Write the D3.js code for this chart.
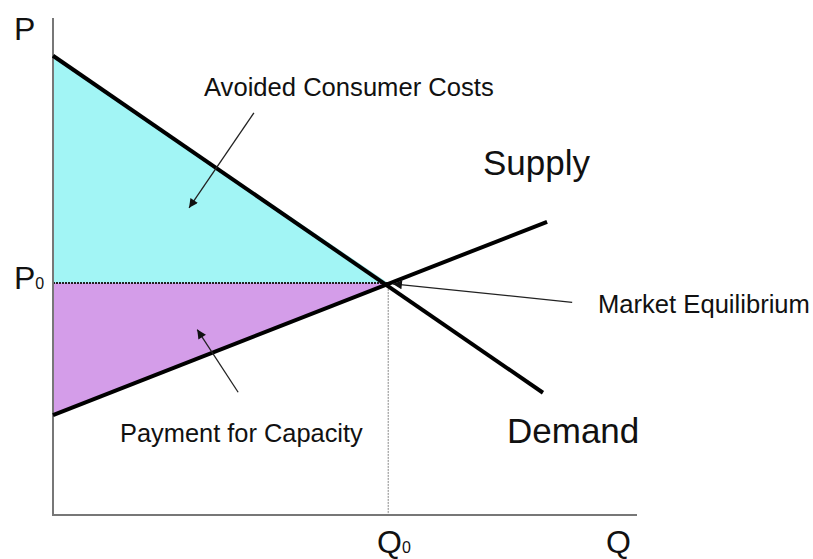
<!DOCTYPE html>
<html>
<head>
<meta charset="utf-8">
<script src="https://cdn.jsdelivr.net/npm/d3@7"></script>
<style>
  body { margin: 0; background: #fff; }
  text { font-family: "Liberation Sans", Arial, sans-serif; fill: #111; }
</style>
</head>
<body>
<div id="chart"></div>
<script>
// curves, in chart units (Q across, P up)
var demand = [[0, 92.4], [57.4, 46.7], [83.9, 24.6]];
var supply = [[0, 20.1], [57.4, 46.7], [84.6, 59.0]];
var equilibrium = { q: 57.4, p: 46.7 };

// callout arrows: [from, to]
var arrowNames = ['Avoided Consumer Costs', 'Payment for Capacity', 'Market Equilibrium'];
var arrowPts = [
  [[34.4, 80.9], [23.3, 61.8]],
  [[31.7, 24.7], [24.7, 37.3]],
  [[88.9, 42.8], [58.2, 46.5]]
];

var svg = d3.select('#chart').append('svg')
    .attr('width', 813)
    .attr('height', 559);

var x = d3.scaleLinear().domain([0, 100]).range([53, 637]);
var y = d3.scaleLinear().domain([0, 100]).range([515, 18]);

var defs = svg.append('defs');
defs.append('marker')
    .attr('id', 'head')
    .attr('viewBox', '0 0 10 10')
    .attr('refX', 10).attr('refY', 5)
    .attr('markerWidth', 13).attr('markerHeight', 9)
    .attr('markerUnits', 'userSpaceOnUse')
    .attr('orient', 'auto')
  .append('path')
    .attr('d', 'M0,0 L10,5 L0,10 Z')
    .attr('fill', '#111');

// shaded areas
var eq = [equilibrium.q, equilibrium.p];
var line = d3.line().x(d => x(d[0])).y(d => y(d[1]));

svg.append('path')
    .attr('d', line([demand[0], eq, [0, equilibrium.p]]) + 'Z')
    .attr('fill', '#a2f5f5');
svg.append('path')
    .attr('d', line([[0, equilibrium.p], eq, supply[0]]) + 'Z')
    .attr('fill', '#d49de9');

// dotted guides
svg.append('line')
    .attr('x1', x(0)).attr('x2', x(equilibrium.q))
    .attr('y1', y(equilibrium.p)).attr('y2', y(equilibrium.p))
    .attr('stroke', '#222').attr('stroke-width', 2)
    .attr('stroke-dasharray', '2,1');
svg.append('line')
    .attr('x1', x(equilibrium.q)).attr('x2', x(equilibrium.q))
    .attr('y1', y(equilibrium.p)).attr('y2', y(0))
    .attr('stroke', '#888').attr('stroke-width', 1)
    .attr('stroke-dasharray', '2,1');

// axes
svg.append('path')
    .attr('d', line([[0, 100], [0, 0], [100, 0]]))
    .attr('fill', 'none')
    .attr('stroke', '#777').attr('stroke-width', 2);

// supply and demand
[demand, supply].forEach(function (pts) {
  svg.append('path')
      .attr('d', line([pts[0], pts[pts.length - 1]]))
      .attr('fill', 'none')
      .attr('stroke', '#000').attr('stroke-width', 4);
});

// arrows
arrowPts.forEach(function (a) {
  svg.append('line')
      .attr('x1', x(a[0][0])).attr('y1', y(a[0][1]))
      .attr('x2', x(a[1][0])).attr('y2', y(a[1][1]))
      .attr('stroke', '#222').attr('stroke-width', 1.3)
      .attr('marker-end', 'url(#head)');
});

// text
function label(t, px, py, size) {
  return svg.append('text').attr('x', px).attr('y', py)
      .style('font-size', size + 'px').text(t);
}
label('P', 14, 40, 32);
label('Q', 606, 553, 32);
var p0 = label('P', 14, 289, 32);
p0.append('tspan').style('font-size', '16px').text('0');
var q0 = label('Q', 377, 553, 32);
q0.append('tspan').style('font-size', '16px').text('0');

label('Supply', 483, 175, 35);
label('Demand', 507, 443, 35);
label(arrowNames[0], 204, 96, 25.6);
label(arrowNames[1], 120, 442, 25.4);
label(arrowNames[2], 598, 313, 25.6);
</script>
</body>
</html>
